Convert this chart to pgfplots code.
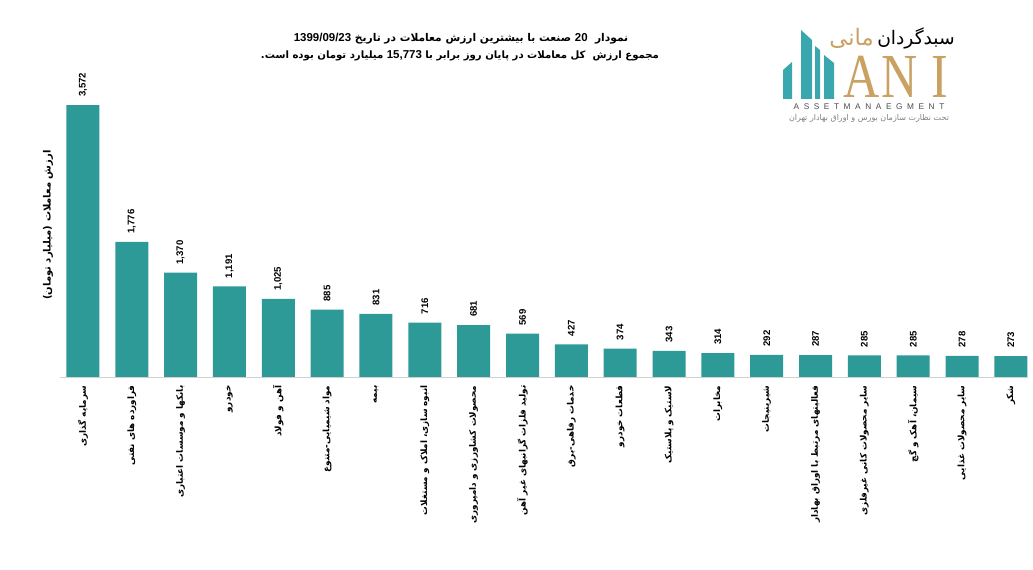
\documentclass[border=0pt]{standalone}
\usepackage{fontspec}
\usepackage{pgfplots}
\pgfplotsset{compat=1.18}
\setmainfont{Liberation Sans}
\newfontfamily\arabicfont[Script=Arabic]{DejaVu Sans}
\newfontfamily\serifA{Liberation Serif}
\TeXXeTstate=1
\definecolor{barc}{HTML}{2E9A98}
\definecolor{logot}{HTML}{3AA6AD}
\definecolor{gold}{HTML}{C9A163}
\begin{document}
\begin{tikzpicture}
\path[use as bounding box] (0,0) rectangle (774.75pt,427.5pt);
\begin{axis}[
  at={(45pt,144.75pt)}, anchor=south west,
  scale only axis, width=726pt, height=222.6pt,
  xmin=-0.47, xmax=19.35, ymin=0, ymax=3900,
  ybar, bar width=24.75pt,
  hide y axis,
  axis x line*=bottom,
  x axis line style={draw=black!18, -},
  xtick={0,...,19},
  xtick style={draw=none},
  clip=false,
  xticklabel style={rotate=90, anchor=east, inner xsep=2pt,
     font=\arabicfont\bfseries\fontsize{6.6}{8}\selectfont},
  xticklabels={
   {\arabicfont\beginR سرمایه گذاری\endR},
   {\arabicfont\beginR فراورده های نفتی\endR},
   {\arabicfont\beginR بانکها و موسسات اعتباری\endR},
   {\arabicfont\beginR خودرو\endR},
   {\arabicfont\beginR آهن و فولاد\endR},
   {\arabicfont\beginR مواد شیمیایی-متنوع\endR},
   {\arabicfont\beginR بیمه\endR},
   {\arabicfont\beginR انبوه سازی، املاک و مستغلات\endR},
   {\arabicfont\beginR محصولات کشاورزی و دامپروری\endR},
   {\arabicfont\beginR تولید فلزات گرانبهای غیر آهن\endR},
   {\arabicfont\beginR خدمات رفاهی-برق\endR},
   {\arabicfont\beginR قطعات خودرو\endR},
   {\arabicfont\beginR لاستیک و پلاستیک\endR},
   {\arabicfont\beginR مخابرات\endR},
   {\arabicfont\beginR شیرینیجات\endR},
   {\arabicfont\beginR فعالیتهای مرتبط با اوراق بهادار\endR},
   {\arabicfont\beginR سایر محصولات کانی غیرفلزی\endR},
   {\arabicfont\beginR سیمان، آهک و گچ\endR},
   {\arabicfont\beginR سایر محصولات غذایی\endR},
   {\arabicfont\beginR شکر\endR}},
  nodes near coords={\pgfmathprintnumber[assume math mode=true,1000 sep={,}]{\pgfplotspointmeta}},
  every node near coord/.append style={rotate=90, anchor=west, inner xsep=6pt,
     font=\bfseries\fontsize{7.2}{8}\selectfont, text=black},
]
\addplot[fill=barc, draw=none] coordinates {
 (0,3572) (1,1776) (2,1370) (3,1191) (4,1025) (5,885) (6,831) (7,716) (8,681) (9,569)
 (10,427) (11,374) (12,343) (13,314) (14,292) (15,287) (16,285) (17,285) (18,278) (19,273)};
\end{axis}
\begin{scope}[shift={(0,427.5pt)}, x=0.75pt, y=-0.75pt]
 % y label
 \node[rotate=90, font=\arabicfont\bfseries\fontsize{7.5}{9}\selectfont] at (48,225) {\beginR ارزش معاملات (میلیارد تومان)\endR};
 % title
 \node[font=\arabicfont\bfseries\fontsize{8}{10}\selectfont] at (461,39)
   {\beginR نمودار\ \ {\rmfamily\fontsize{8.6}{10}\selectfont 20} صنعت با بیشترین ارزش معاملات در تاریخ \beginL{\rmfamily\fontsize{8.6}{10}\selectfont 1399/09/23}\endL\endR};
 \node[font=\arabicfont\bfseries\fontsize{7.6}{10}\selectfont] at (460,56)
   {\beginR مجموع ارزش\ \ کل معاملات در پایان روز برابر با \beginL{\rmfamily\fontsize{8.6}{10}\selectfont 15,773}\endL{} میلیارد تومان بوده است.\endR};
 % logo
 \fill[logot] (783,99) -- (783,70) -- (792,62) -- (792,99) -- cycle;
 \fill[logot] (801,99) -- (801,30) -- (812,40) -- (812,99) -- cycle;
 \fill[logot] (815,99) -- (815,46) -- (820,50) -- (820,99) -- cycle;
 \fill[logot] (824,99) -- (824,55) -- (834,63) -- (834,99) -- cycle;
 \node[gold, font=\serifA\fontsize{47}{47}\selectfont, anchor=base, xscale=0.8, inner sep=0, text depth=0pt] at (862,98) {A};
 \node[gold, font=\serifA\fontsize{47}{47}\selectfont, anchor=base, xscale=0.8, inner sep=0, text depth=0pt] at (900,98) {N};
 \node[gold, font=\serifA\fontsize{47}{47}\selectfont, anchor=base, xscale=0.8, inner sep=0, text depth=0pt] at (940,98) {I};
 \node[black!70, font=\fontsize{6.2}{7}\selectfont, anchor=base, inner sep=0] at (869,110) {A\ \ S\ \ S\ \ E\ \ T\ \ M\ \ A\ \ N\ \ A\ \ E\ \ G\ \ M\ \ E\ \ N\ \ T};
 \node[black!50, font=\arabicfont\fontsize{6}{7}\selectfont, anchor=base, inner sep=0] at (869,121) {\beginR تحت نظارت سازمان بورس و اوراق بهادار تهران\endR};
 \node[black, font=\arabicfont\fontsize{14}{15}\selectfont, anchor=base east, inner sep=0] at (955,45) {\beginR سبدگردان\endR};
 \node[gold, font=\arabicfont\fontsize{17}{18}\selectfont, anchor=base east, inner sep=0] at (874,46) {\beginR مانی\endR};
\end{scope}
\end{tikzpicture}
\end{document}
